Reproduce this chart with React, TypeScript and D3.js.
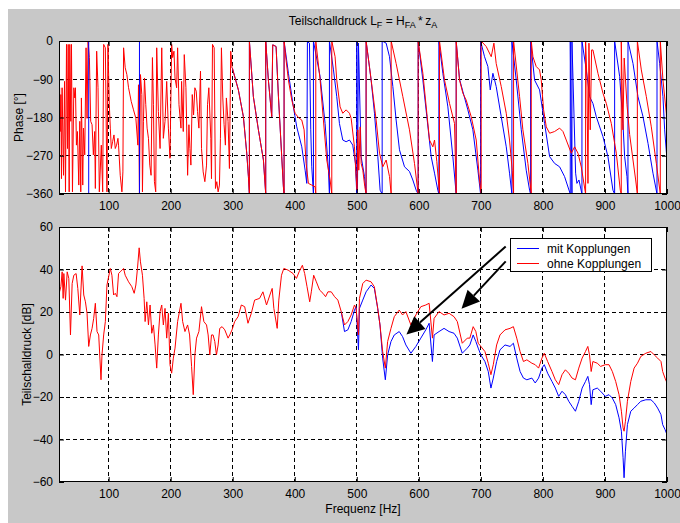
import React, { useEffect, useRef } from "react";
import * as d3 from "d3";

// Phase [°], 20–300 Hz (beide Kurven liegen hier praktisch übereinander)
const phaseGemeinsam: [number, number][] = [
  [20, -140], [21, -110], [22, -213], [23, -126], [24, -324], [25, -110], [27.3, -316], [28.9, -95],
  [30.5, -355], [32.1, -8], [33.7, -253], [34.8, -8], [36.4, -355], [37.4, -8], [39, -189], [40.1, -8],
  [41.7, -355], [43.9, -110], [45.5, -134], [46.5, -110], [48.1, -245], [49.7, -213], [51.9, -339],
  [53.5, -189], [55.1, -355], [56.1, -134], [58.3, -339], [59.4, -205], [61.5, -268], [63.6, -16],
  [65.2, -182], [66.8, 0], [69, -39], [71.1, -189], [73.3, -197], [75.4, -268], [77.5, -213], [78.6, -347],
  [80.7, -24], [82.9, -110], [85, -355], [88.2, -245], [90.4, -355], [92, -8], [94.7, -16], [97.3, -355],
  [98.9, -8], [101.1, -150], [102.7, -205], [104.3, -253], [106.4, -237], [108.6, -221], [110.7, -253],
  [112.8, -245], [115, -229], [116, -245], [118.7, -316], [121.4, -355], [123, -308], [124.1, -16],
  [126.7, -63], [129.4, -79], [132.1, -110], [136.4, -142], [140.1, -162], [143.9, -182], [147.1, -245],
  [148.1, -103], [149.7, -360], [151.3, -79], [153.5, -126], [154.5, -355], [156.1, -189], [157.8, -87],
  [159.9, -150], [162, -205], [164.2, -229], [166.3, -292], [168.4, -316], [170.6, -39], [172.2, -150],
  [173.8, -331], [175.9, -355], [177.5, -16], [180.2, -166], [182.9, -253], [185.6, -16], [188.2, -229],
  [190.9, -189], [193.6, -95], [196.3, -205], [198.9, -276], [201.6, -8], [203.2, -39], [205.3, -24],
  [207, -87], [209.6, -110], [211.2, -16], [213.4, -150], [216.6, -205], [217.6, -95], [220.3, -213],
  [221.9, -32], [224.6, -110], [227.3, -316], [229.4, -197], [231, -253], [232.6, -292], [234.8, -126],
  [236.9, -174], [239, -110], [241.2, -118], [243.3, -166], [245.5, -205], [248.1, -71], [249.7, -253],
  [252.4, -308], [255.1, -331], [257.8, -292], [259.4, -150], [261.5, -110], [264.7, -229], [265.8, -324],
  [267.4, -8], [270.1, -16], [272.2, -347], [274.3, -331], [276.5, -355], [278.6, -339], [280.2, -229],
  [281.8, -16], [284, -134], [286.1, -197], [288.2, -245], [289.8, -134], [292.5, -189], [294.7, -300],
  [296.8, -24], [298.9, -63],
];

// Phase, 300–1000 Hz, mit Kopplungen (blau)
const phaseMit: [number, number][] = [
  [299.5, -64], [309.1, -115], [317.2, -178], [322.6, -264], [325.3, -319], [326.9, -360], [326.9, 0],
  [333.3, -131], [341.4, -209], [349.5, -280], [353.2, -360], [353.2, 0], [357.5, -92], [362.9, -178],
  [364.5, -9], [369.9, -13], [373.7, -131], [379, -272], [381.7, -343], [382.8, -360], [382.8, 0],
  [389.8, -76], [397.8, -155], [403.2, -202], [411.3, -249], [416.7, -304], [419.4, -335], [420.4, -2],
  [423.7, -5], [425.8, -209], [427.4, -296], [430.1, -360], [430.1, 0], [440.9, -84], [448.9, -194],
  [454.3, -304], [455.9, -360], [455.9, 0], [462.4, -68], [467.7, -131], [472, -194], [477.4, -233],
  [482.8, -237], [488.2, -233], [493.5, -245], [497.8, -288], [500, -360], [500, 0], [501.1, -351],
  [502.7, -5], [507, -272], [512.4, -319], [515, -360], [515, 0], [523.1, -92], [528.5, -170],
  [533.9, -272], [537.6, -351], [540.9, -360], [540.9, 0], [547.3, -5], [552.7, -37], [558.1, -107],
  [563.4, -186], [568.8, -256], [576.9, -296], [584.9, -307], [590.3, -327], [595.7, -351], [598.9, -360],
  [598.9, 0], [606.5, -92], [612.9, -178], [619.9, -272], [625.3, -311], [630.6, -351], [632.3, -360],
  [632.3, 0], [638.7, -76], [646.8, -155], [654.8, -272], [660.2, -360], [660.2, 0], [665.6, -90],
  [671, -119], [679, -162], [687.1, -209], [695.2, -304], [699.5, -360], [699.5, 0], [705.9, -37],
  [711.3, -60], [715.1, -115], [719.4, -76], [724.7, -107], [732.8, -178], [740.9, -249], [746.2, -311],
  [750, -360], [750, 0], [757, -92], [765.1, -209], [773.1, -304], [778.5, -351], [780.1, -360], [780.1, 0],
  [786.6, -92], [794.6, -115], [802.7, -194], [810.8, -272], [818.8, -288], [826.9, -296], [834.9, -319],
  [844.1, -360], [844.1, 0], [846.8, -360], [846.8, 0], [852.7, -311], [854.8, -335], [858.1, -327],
  [862.9, -360], [862.9, 0], [869.9, -68], [875.3, -131], [880.6, -147], [886, -178], [896.8, -225],
  [904.8, -272], [912.9, -351], [915.6, -360], [915.6, 0], [923.7, -84], [929, -194], [931.7, -272],
  [935.5, -319], [937.1, -360], [937.1, 0], [945.2, -53], [953.2, -131], [961.3, -178], [969.4, -241],
  [977.4, -311], [983.9, -360], [983.9, 0], [988.2, -53], [993.5, -131], [996.2, -209], [1000, -280],
];

// Phase, 300–1000 Hz, ohne Kopplungen (rot)
const phaseOhne: [number, number][] = [
  [299.5, -64], [309.1, -115], [317.2, -178], [322.6, -264], [325.3, -319], [326.9, -360], [326.9, 0],
  [333.3, -131], [341.4, -209], [349.5, -280], [353.2, -360], [353.2, 0], [357.5, -92], [362.9, -178],
  [364.5, -9], [369.9, -13], [373.7, -131], [379, -272], [381.7, -343], [382.8, -360], [382.8, 0],
  [386, -45], [389.8, -92], [395.2, -139], [400.5, -170], [405.9, -180], [411.3, -186], [415.1, -209],
  [418.3, -288], [422, -335], [427.4, -339], [432.8, -343], [433.9, -360], [433.9, 0], [440.9, -92],
  [446.2, -186], [451.6, -280], [457, -327], [459.7, -360], [459.7, 0], [465, -37], [467.7, -92],
  [473.1, -155], [477.4, -170], [482.8, -162], [488.2, -170], [490.9, -182], [496.2, -249], [498.9, -319],
  [500.5, -351], [501.6, -209], [503.2, -304], [505.4, -202], [507, -288], [509.7, -304], [512.9, -343],
  [515, -360], [515, 0], [520.4, -60], [525.8, -123], [531.2, -186], [536.6, -264], [541.9, -296],
  [547.3, -280], [552.7, -319], [555.4, -360], [555.4, 0], [563.4, -53], [574.2, -131], [584.9, -209],
  [593, -288], [598.9, -360], [598.9, 0], [606.5, -76], [612.9, -170], [617.2, -233], [622.6, -249],
  [625.3, -233], [629, -284], [633.3, -360], [633.3, 0], [641.4, -92], [649.5, -147], [657.5, -194],
  [660.2, -360], [660.2, 0], [665.6, -92], [671, -123], [676.3, -139], [684.4, -178], [692.5, -233],
  [697.8, -327], [700.5, -360], [700.5, 0], [708.6, -13], [716.7, -37], [721, -5], [724.7, -53],
  [732.8, -107], [740.9, -170], [746.2, -233], [750.5, -304], [752.7, -360], [752.7, 0], [762.4, -131],
  [767.7, -209], [775.8, -288], [781.2, -360], [781.2, 0], [783.9, -37], [789.2, -60], [794.6, -68],
  [797.3, -92], [801.1, -162], [805.4, -202], [810.8, -217], [818.8, -213], [826.9, -205], [832.3, -213],
  [837.6, -233], [845.7, -264], [851.1, -249], [856.5, -264], [861.8, -296], [868.8, -360], [868.8, 0],
  [871, -92], [872.6, -335], [874.2, -5], [876.3, -209], [878.5, -21], [880.6, -21], [888.7, -76],
  [896.8, -123], [902.2, -147], [910.2, -194], [918.3, -264], [924.7, -351], [926.3, -360], [926.3, 0],
  [929, -209], [931, -40], [935.5, -150], [939.8, -220], [945.2, -280], [949.5, -327], [952.2, -360],
  [952.2, 0], [958.6, -68], [966.7, -131], [974.7, -202], [982.8, -288], [989.2, -360], [989.2, 0],
  [993.5, -92], [998.9, -170], [1000, -209],
];

// sichtbare blaue Phasensprünge unter 300 Hz
const blaueSpruenge = [67.9, 149.7];

// Teilschalldruck [dB], 20–475 Hz (gemeinsam)
const pegelGemeinsam: [number, number][] = [
  [20, 24.8], [20.9, 29.5], [23, 31.9], [25.1, 38.9], [26.7, 26.4], [27.8, 38.1], [30.5, 25.6], [33.2, 38.9],
  [35.8, 35.8], [38.5, 9.2], [41.2, 33.4], [43.9, 37.3], [47.6, 38.1], [50.3, 31.1], [53.5, 18.6],
  [57.2, 41.7], [59.9, 28], [62.6, 24.8], [65.2, 19.4], [67.9, 3.8], [70.6, 9.2], [73.3, 12.3], [75.9, 17],
  [78.6, 24.1], [81.3, 10.8], [84, 9.2], [87.7, -11.9], [89.3, -0.2], [92, 9.2], [94.7, 15.5], [97.3, 32.7],
  [102.7, 40.5], [105.3, 37.3], [108, 28], [110.7, 28.8], [113.4, 27.2], [116, 38.1], [118.7, 38.9],
  [121.4, 39.7], [124.1, 40.5], [126.7, 37.3], [132.1, 34.2], [137.4, 31.9], [141.2, 28.8], [143.9, 32.7],
  [146.5, 40.5], [149.2, 50.2], [151.3, 43.6], [154.5, 37.3], [157.2, 26.4], [158.8, 15.5], [161.5, 24.8],
  [164.2, 13.9], [166.8, 23.3], [169.5, 10], [172.2, 13.9], [174.9, 4.5], [177.5, -6.4], [180.2, 9.2],
  [182.9, 20.2], [185.6, 23.3], [188.2, 13.9], [190.9, 21.7], [193.6, 7.7], [196.3, 19.4], [198.9, -4.8],
  [201.6, -8.8], [204.3, -1.7], [207, 3], [211.2, 15.5], [216.6, 24.1], [219.3, 15.5], [223, 10.8],
  [227.3, 13.9], [230.5, 9.2], [233.7, -5.6], [236.4, -18.9], [239, -0.2], [241.7, 7.7], [245.5, 10.8],
  [249.7, 22.5], [253.5, 15.5], [257.8, 13.9], [260.4, 9.2], [263.1, -0.2], [265.8, 9.2], [268.4, 9.2],
  [271.1, 6.1], [273.8, -0.2], [276.5, 4.5], [279.1, 12.3], [282.9, 13.1], [287.2, 11.6], [292.5, 7.7],
  [295.2, 9.2], [298.9, 11.6], [303.2, 15.5], [308.6, 17.8], [313.9, 23.3], [319.3, 22.5], [324.6, 14.7],
  [330, 19.4], [335.3, 25.6], [343.3, 26.4], [348.7, 29.5], [354.5, 23.3], [359.9, 28], [363.6, 31.1],
  [366.3, 21.7], [371.7, 12.3], [374.3, 25.6], [378.6, 37.3], [382.4, 40.5], [389.3, 39.7], [397.3, 38.1],
  [402.7, 35.8], [407, 38.9], [412.3, 42], [416, 38.1], [419.8, 31.9], [424.1, 24.8], [426.7, 29.5],
  [430.5, 37.3], [434.8, 34.2], [440.1, 30.3], [445.5, 28.8], [449.7, 27.2], [453.5, 29.5], [458.8, 29.5],
  [464.2, 27.2], [469.5, 25.6], [474.9, 20.2],
];

// Teilschalldruck ab 480 Hz, mit Kopplungen
const pegelMit: [number, number][] = [
  [480.2, 10.8], [485.6, 11.6], [490.9, 15.5], [496.3, 20.9], [498.9, 22.5], [502.7, 2.2], [504.3, 21.7],
  [509.6, 25.6], [515, 29.5], [523, 32.7], [528.3, 31.1], [533.7, 21.7], [537.4, 13.9], [541.7, -1.7],
  [546, -11.9], [549.7, -0.2], [555.1, 6.1], [560.4, 9.2], [568.4, 10.8], [573.8, 8.4], [579.1, 4.5],
  [587.2, 0.6], [595.2, 3.8], [603.2, 7.7], [611.2, 11.6], [616.6, 14.7], [621.9, -3.3], [624.6, 9.2],
  [632.6, 10.8], [640.6, 12.3], [648.7, 10.8], [656.7, 10], [662, 7.7], [670, 0.6], [678.1, 3],
  [682.2, 4.5], [687.6, 9.2], [691.9, 6.1], [695.7, 3], [700, -0.2], [706.5, -3.3], [711.9, -8],
  [716.2, -15.8], [720, -11.1], [725.4, -3.3], [730.8, 2.2], [738.9, 4.5], [747, 3.8], [752.4, 5.3],
  [757.8, -1.7], [763.2, -8], [768.6, -11.1], [774.1, -11.9], [782.2, -11.1], [787.6, -13.4], [793, -11.1],
  [798.4, -6.4], [802.2, -4.8], [807.6, -8.8], [814.6, -12.7], [820, -15.8], [825.4, -19.7], [830.8, -17.3],
  [836.2, -18.9], [841.6, -22], [847, -24.4], [852.4, -26.7], [857.8, -22], [863.2, -15.8], [868.6, -12.7],
  [872.4, -10.3], [875.1, -14.2], [877.8, -23.6], [880.5, -16.6], [887.6, -15.8], [893, -17.3],
  [900.5, -19.7], [906.5, -18.9], [911.9, -20.5], [917.3, -23.6], [922.7, -29.8], [926.5, -36.1],
  [929.2, -48.6], [930.8, -58], [933, -45.5], [936.2, -33], [941.6, -26.7], [947, -25.2], [952.4, -23.6],
  [957.8, -22], [965.9, -21.3], [974.1, -21.3], [979.5, -22.8], [984.9, -25.2], [990.3, -28.3], [993, -33],
  [996.8, -35.3], [1000, -37.7],
];

// Teilschalldruck ab 480 Hz, ohne Kopplungen
const pegelOhne: [number, number][] = [
  [480.2, 13.9], [485.6, 15.5], [490.9, 18.6], [496.3, 23.3], [498.9, 21.7], [502.7, 9.2], [504.3, 26.4],
  [509.6, 33.4], [515, 35], [523, 34.2], [528.3, 31.9], [533.7, 21.7], [537.4, 13.9], [541.7, 1.4],
  [546, -6.4], [549.7, 6.1], [555.1, 12.3], [560.4, 17.8], [568.4, 20.9], [573.8, 18.6], [579.1, 20.2],
  [587.2, 13.9], [595.2, 18.6], [603.2, 22.5], [611.2, 23.3], [616.6, 24.1], [621.9, 7.7], [624.6, 17],
  [632.6, 20.2], [640.6, 18.6], [648.7, 19.4], [656.7, 17.8], [662, 15.5], [670, 5.3], [678.1, 7.7],
  [682.2, 7.7], [687.6, 13.1], [691.9, 10.8], [695.7, 5.3], [700, 3.8], [706.5, 1.4], [711.9, -4.1],
  [716.2, -9.5], [720, -4.8], [725.4, 4.5], [730.8, 9.2], [738.9, 11.6], [747, 12.3], [752.4, 13.1],
  [757.8, 7.7], [763.2, 1.4], [768.6, -3.3], [774.1, -2.5], [782.2, -4.1], [787.6, -4.8], [793, -6.4],
  [798.4, -1.7], [802.2, 0.6], [807.6, -3.3], [814.6, -8], [820, -11.9], [825.4, -14.2], [830.8, -9.5],
  [836.2, -7.2], [841.6, -8.8], [847, -11.1], [852.4, -11.9], [857.8, -6.4], [863.2, -1.7], [868.6, 1.4],
  [872.4, 3.8], [875.1, -0.2], [877.8, -8], [880.5, -3.3], [887.6, -4.1], [893, -5.6], [900.5, -4.8],
  [906.5, -4.8], [911.9, -8], [917.3, -12.7], [922.7, -18.9], [926.5, -26.7], [929.2, -34.5],
  [930.8, -36.1], [933, -31.4], [936.2, -22], [941.6, -12.7], [947, -6.4], [952.4, -4.1], [957.8, -0.9],
  [965.9, 0.6], [974.1, 1.4], [979.5, -0.2], [984.9, -1.7], [990.3, -3.3], [993, -8], [996.8, -11.1],
  [1000, -13.4],
];

const freqTicks = [100, 200, 300, 400, 500, 600, 700, 800, 900, 1000];
const phaseTicks = [-360, -270, -180, -90, 0];
const pegelTicks = [-60, -40, -20, 0, 20, 40, 60];
const legende = ["mit Kopplungen", "ohne Kopplungen"];
const farben = ["#0000ff", "#ff0000"];

const FONT = "'Liberation Sans', Arial, Helvetica, sans-serif";

export default function App() {
  const ref = useRef<SVGSVGElement>(null);

  useEffect(() => {
    const svg = d3.select(ref.current);
    svg.selectAll("*").remove();

    svg.append("rect").attr("width", 680).attr("height", 523).attr("fill", "#fff");
    svg.append("rect").attr("x", 8).attr("y", 9).attr("width", 672).attr("height", 514).attr("fill", "#c8c8c8");

    const x = d3.scaleLinear().domain([20, 1000]).range([59, 667]);
    const yPhase = d3.scaleLinear().domain([-360, 0]).range([194, 41]);
    const yPegel = d3.scaleLinear().domain([-60, 60]).range([482, 227]);

    function achsen(name: string, y: d3.ScaleLinear<number, number>, ticks: number[]) {
      const [y0, y1] = y.range();
      const g = svg.append("g");
      g.append("rect")
        .attr("x", 59).attr("y", y1).attr("width", 608).attr("height", y0 - y1)
        .attr("fill", "#fff");

      // Gitter
      g.selectAll(".gx").data(freqTicks.filter(t => t < 1000)).enter().append("line")
        .attr("x1", d => x(d)).attr("x2", d => x(d)).attr("y1", y1).attr("y2", y0)
        .attr("stroke", "#000").attr("stroke-dasharray", "4,3").attr("shape-rendering", "crispEdges");
      g.selectAll(".gy").data(ticks.slice(1, -1)).enter().append("line")
        .attr("x1", 59).attr("x2", 667).attr("y1", d => y(d)).attr("y2", d => y(d))
        .attr("stroke", "#000").attr("stroke-dasharray", "4,3").attr("shape-rendering", "crispEdges");

      svg.append("clipPath").attr("id", name)
        .append("rect").attr("x", 59).attr("y", y1).attr("width", 608).attr("height", y0 - y1);

      const plot = svg.append("g").attr("clip-path", `url(#${name})`);

      // Achsen mit Ticks nach innen
      const ax = svg.append("g").style("font-family", FONT).style("font-size", "12px");
      ax.append("g").attr("transform", `translate(0,${y0})`)
        .call(d3.axisBottom(x).tickValues(freqTicks).tickSize(-5).tickPadding(7).tickFormat(d3.format("d")));
      ax.append("g").attr("transform", `translate(0,${y1})`)
        .call(d3.axisTop(x).tickValues(freqTicks).tickSize(-5).tickFormat(() => ""));
      ax.append("g").attr("transform", "translate(59,0)")
        .call(d3.axisLeft(y).tickValues(ticks).tickSize(-5).tickPadding(6).tickFormat(d3.format("d")));
      ax.append("g").attr("transform", "translate(667,0)")
        .call(d3.axisRight(y).tickValues(ticks).tickSize(-5).tickFormat(() => ""));
      ax.selectAll(".domain").remove();
      ax.selectAll(".tick line").attr("stroke", "#000");
      ax.selectAll(".tick text").attr("fill", "#000").style("font-family", FONT).style("font-size", "12px");
      ax.append("rect")
        .attr("x", 59.5).attr("y", y1 + 0.5).attr("width", 607).attr("height", y0 - y1 - 1)
        .attr("fill", "none").attr("stroke", "#000");
      return plot;
    }

    // oben: Phase (blau nur dort, wo es sich vom roten Verlauf unterscheidet)
    const oben = achsen("clipOben", yPhase, phaseTicks);
    const linePhase = d3.line<[number, number]>().x(d => x(d[0])).y(d => yPhase(d[1]));
    oben.append("path").datum([phaseGemeinsam[phaseGemeinsam.length - 1], ...phaseMit]).attr("d", linePhase)
      .attr("fill", "none").attr("stroke", farben[0]).attr("stroke-width", 1);
    oben.append("path").datum(phaseGemeinsam.concat(phaseOhne)).attr("d", linePhase)
      .attr("fill", "none").attr("stroke", farben[1]).attr("stroke-width", 1);
    oben.selectAll(".sprung").data(blaueSpruenge).enter().append("line")
      .attr("x1", d => x(d)).attr("x2", d => x(d)).attr("y1", yPhase(0)).attr("y2", yPhase(-360))
      .attr("stroke", farben[0]);

    // unten: Teilschalldruck
    const unten = achsen("clipUnten", yPegel, pegelTicks);
    const linePegel = d3.line<[number, number]>().x(d => x(d[0])).y(d => yPegel(d[1]));
    unten.append("path").datum([pegelGemeinsam[pegelGemeinsam.length - 1], ...pegelMit]).attr("d", linePegel)
      .attr("fill", "none").attr("stroke", farben[0]).attr("stroke-width", 1);
    unten.append("path").datum(pegelGemeinsam.concat(pegelOhne)).attr("d", linePegel)
      .attr("fill", "none").attr("stroke", farben[1]).attr("stroke-width", 1);

    // Pfeile
    const pfeile = [
      { von: [740, 50.8], nach: [580, 9.4] },
      { von: [740, 43.8], nach: [668.8, 21.5] },
    ];
    pfeile.forEach(p => {
      const x0 = x(p.von[0]), y0 = yPegel(p.von[1]);
      const x1 = x(p.nach[0]), y1 = yPegel(p.nach[1]);
      const dx = x1 - x0, dy = y1 - y0, len = Math.hypot(dx, dy);
      const ux = dx / len, uy = dy / len;
      const L = 18, W = 8.5;
      const bx = x1 - ux * L, by = y1 - uy * L;
      svg.append("line").attr("x1", x0).attr("y1", y0).attr("x2", bx).attr("y2", by)
        .attr("stroke", "#000").attr("stroke-width", 2);
      svg.append("polygon")
        .attr("points", `${x1},${y1} ${bx - uy * W},${by + ux * W} ${bx + uy * W},${by - ux * W}`)
        .attr("fill", "#000");
    });

    // Legende
    const lg = svg.append("g").attr("transform", "translate(510,238)");
    lg.append("rect").attr("x", 0.5).attr("y", 0.5).attr("width", 141).attr("height", 33)
      .attr("fill", "#fff").attr("stroke", "#000");
    legende.forEach((t, i) => {
      lg.append("line").attr("x1", 7).attr("x2", 29).attr("y1", 10.5 + i * 15).attr("y2", 10.5 + i * 15)
        .attr("stroke", farben[i]);
      lg.append("text").attr("x", 37).attr("y", 14.5 + i * 15)
        .style("font-family", FONT).style("font-size", "12px").text(t);
    });

    // Beschriftungen
    const title = svg.append("text").attr("x", 363).attr("y", 25).attr("text-anchor", "middle")
      .style("font-family", FONT).style("font-size", "12px");
    title.append("tspan").text("Teilschalldruck L");
    title.append("tspan").attr("dy", 3).style("font-size", "9px").text("F");
    title.append("tspan").attr("dy", -3).text(" = H");
    title.append("tspan").attr("dy", 3).style("font-size", "9px").text("FA");
    title.append("tspan").attr("dy", -3).text("\u2009*\u2009z");
    title.append("tspan").attr("dy", 3).style("font-size", "9px").text("A");

    svg.append("text").attr("transform", "translate(18.5,117.5) rotate(-90)").attr("dy", "0.35em")
      .attr("text-anchor", "middle").style("font-family", FONT).style("font-size", "12px").text("Phase [°]");
    svg.append("text").attr("transform", "translate(26.5,354.5) rotate(-90)").attr("dy", "0.35em")
      .attr("text-anchor", "middle").style("font-family", FONT).style("font-size", "12px")
      .text("Teilschalldruck [dB]");
    svg.append("text").attr("x", 363).attr("y", 513).attr("text-anchor", "middle")
      .style("font-family", FONT).style("font-size", "12px").text("Frequenz [Hz]");
  }, []);

  return (
    <>
      <style>{"body{margin:0;overflow:hidden}"}</style>
      <svg ref={ref} width={680} height={523} style={{ display: "block" }} />
    </>
  );
}
